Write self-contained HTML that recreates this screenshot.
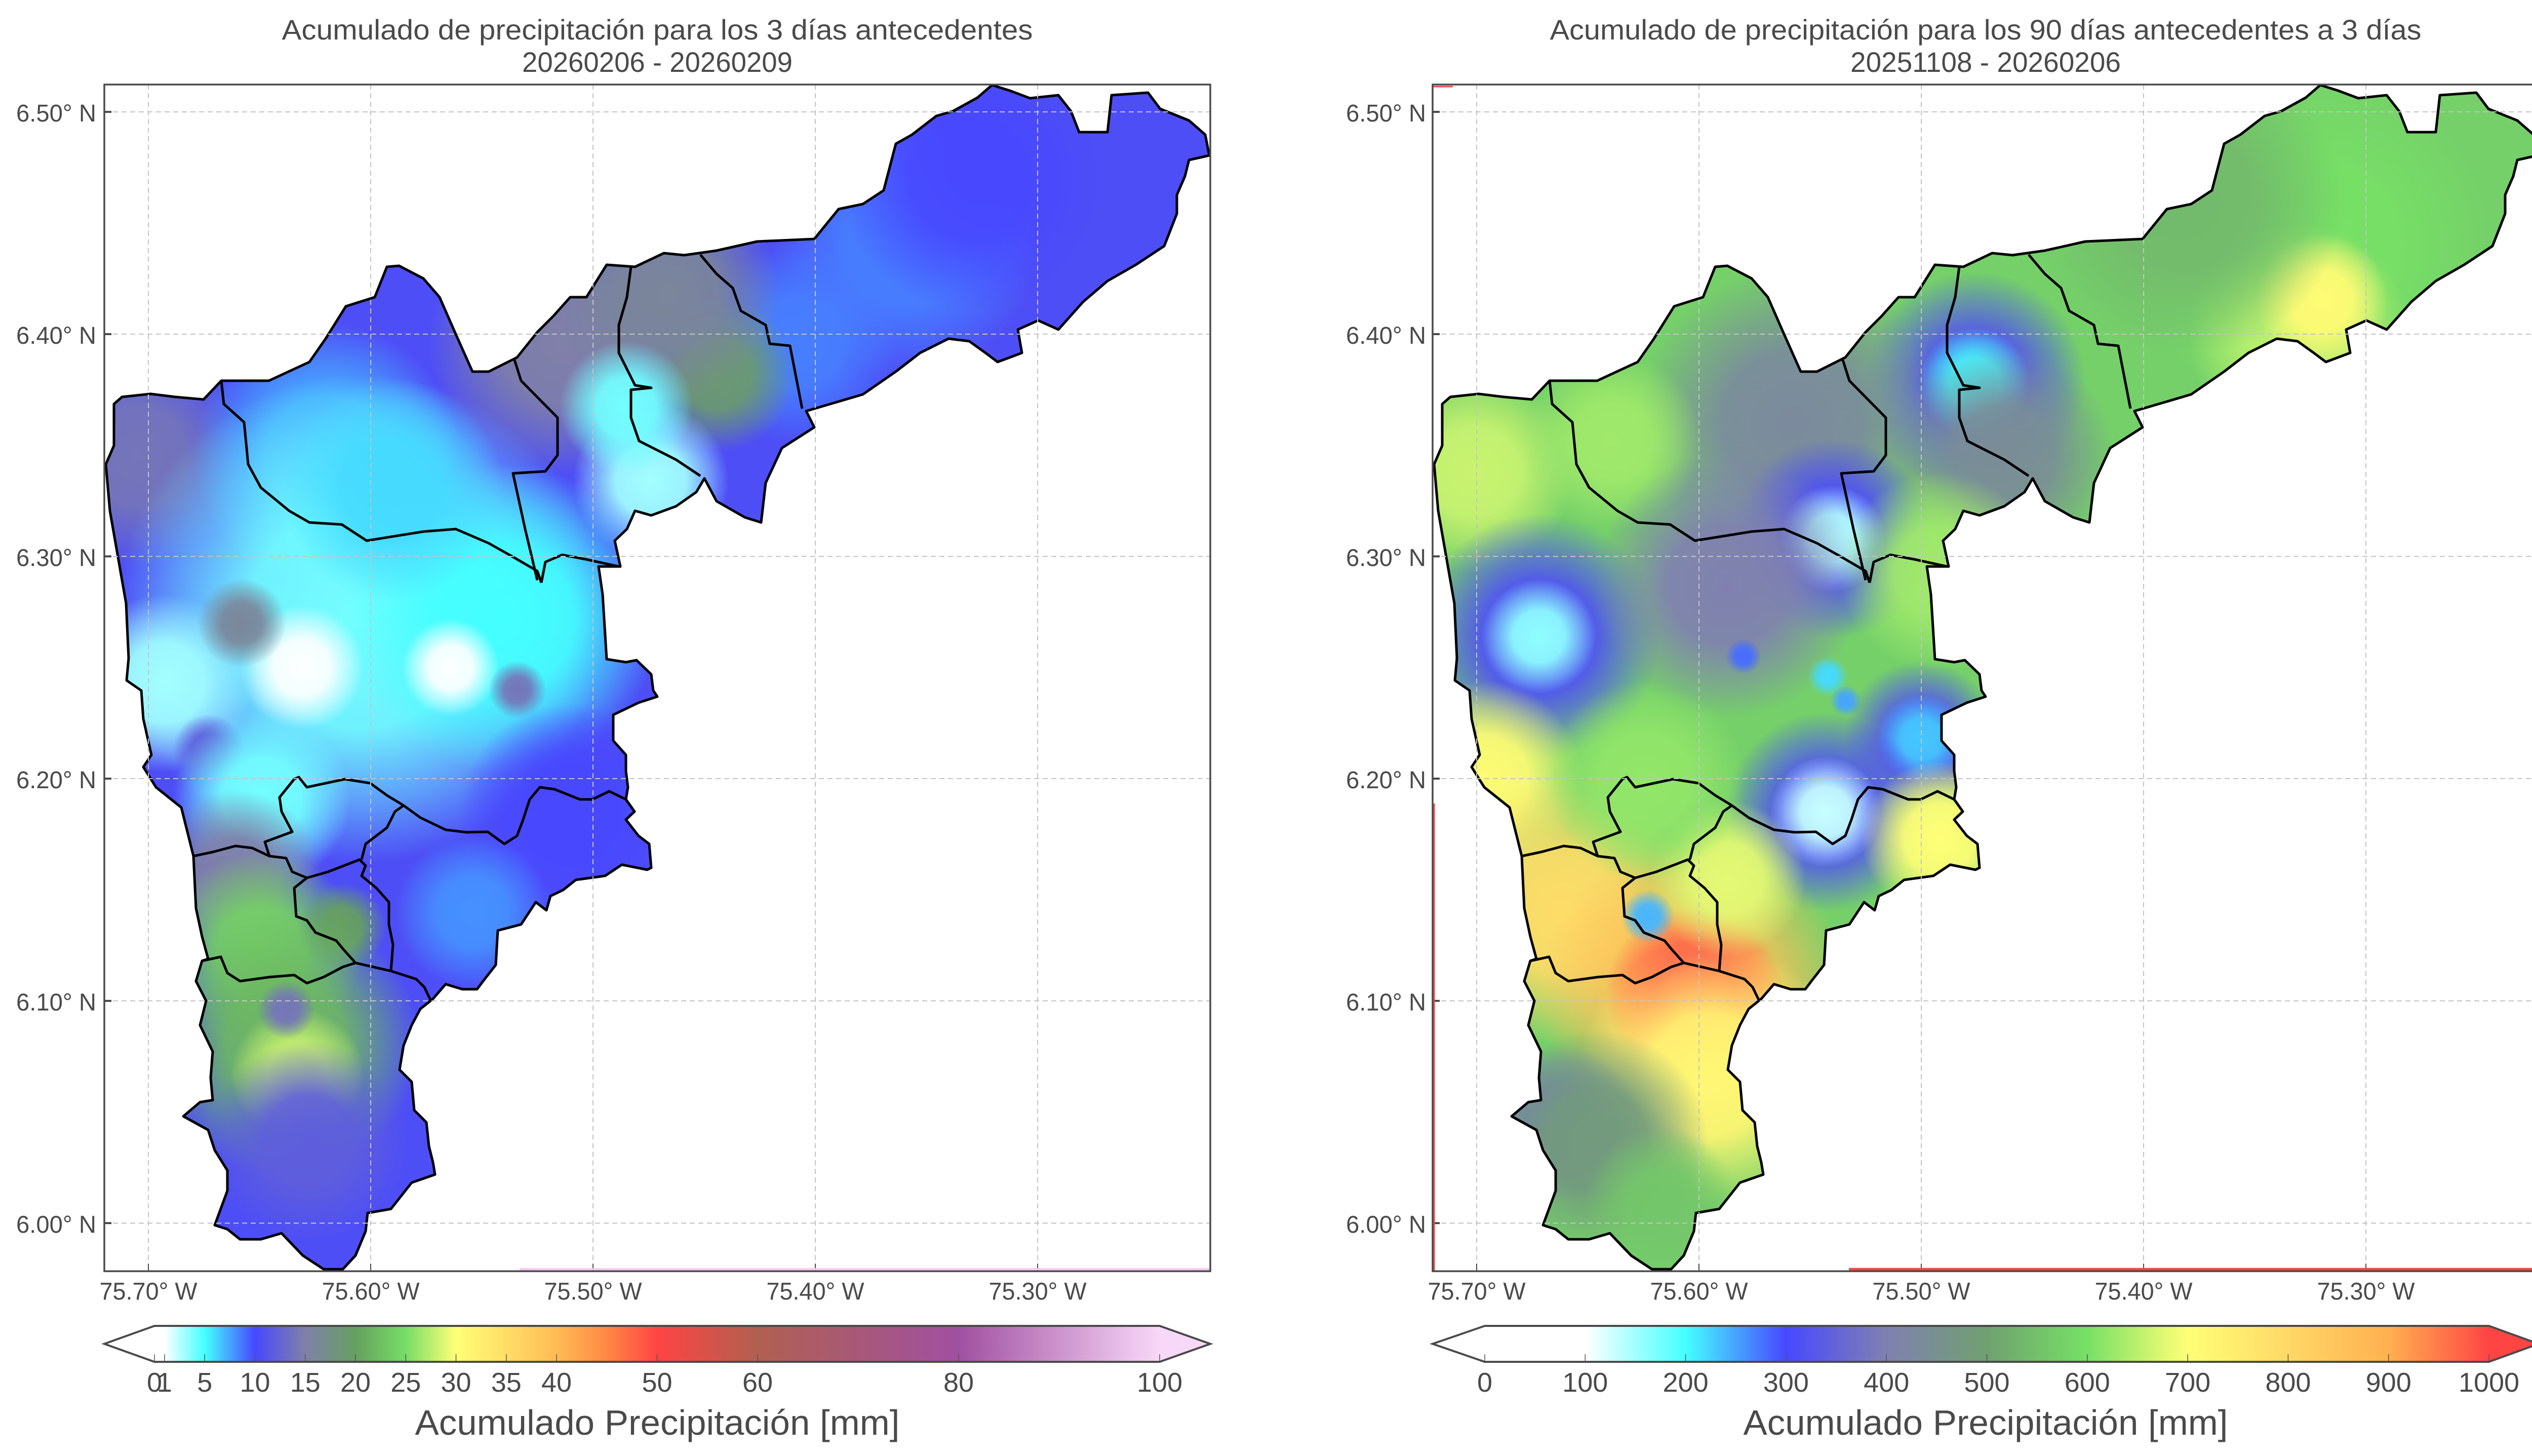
<!DOCTYPE html>
<html><head><meta charset="utf-8">
<style>
html,body{margin:0;padding:0;background:#fff;}
svg{display:block;}
text{font-family:"Liberation Sans",sans-serif;fill:#4a4a4a;}
</style></head>
<body>
<svg id="fig" xmlns="http://www.w3.org/2000/svg" width="5044" height="2876" viewBox="0 0 5044 2876"></svg>
<script>
// ---------- data ----------
const latTicks = [6.50, 6.40, 6.30, 6.20, 6.10, 6.00];
const latTickLabels = ["6.50° N","6.40° N","6.30° N","6.20° N","6.10° N","6.00° N"];
const lonTicks = [-75.70, -75.60, -75.50, -75.40, -75.30];
const lonTickLabels = ["75.70° W","75.60° W","75.50° W","75.40° W","75.30° W"];

const cb1Ticks = [0,1,5,10,15,20,25,30,35,40,50,60,80,100];
const cb1Labels = ["0","1","5","10","15","20","25","30","35","40","50","60","80","100"];
const cb1StopVals = [0,1,5,10,15,20,25,30,40,45,50,60,80,100];
const cb1StopCols = ["#ffffff","#ffffff","#44ffff","#4848ff","#8080a8","#66a060","#77dd66","#ffff77","#ffbb55","#ff8844","#ff4444","#b06050","#a050a0","#f8d8f8"];

const cb2Ticks = [0,100,200,300,400,500,600,700,800,900,1000];
const cb2Labels = ["0","100","200","300","400","500","600","700","800","900","1000"];
const cb2StopVals = [0,100,200,300,400,500,600,700,800,900,1000];
const cb2StopCols = ["#ffffff","#ffffff","#44ffff","#4848ff","#8080b0","#70a070","#77e066","#ffff77","#ffd866","#ffb050","#ff4444"];

// field 1 (3-day accumulation)
const f1Base = 10.5;
const f1Lon = [-75.360,-75.408,-75.514,-75.444,-75.466,-75.474,-75.485,-75.705,-75.620,-75.605,-75.540,-75.631,-75.564,-75.693,-75.658,-75.673,-75.534,-75.510,-75.649,-75.661,-75.649,-75.613,-75.638,-75.633,-75.638,-75.628,-75.554,-75.330,-75.590];
const f1Lat = [6.440,6.396,6.396,6.382,6.418,6.334,6.367,6.345,6.345,6.272,6.272,6.250,6.250,6.243,6.270,6.213,6.240,6.184,6.191,6.155,6.122,6.133,6.081,6.067,6.096,6.037,6.140,6.470,6.330];
const f1Val = [8.5,8.5,15,19,16,3,4,14,7,4,5,0.5,0.5,3,16,12,14,10,4,15,24,20,22,28,14,12,8,10,6];
const f1Rad = [0.06,0.045,0.06,0.035,0.05,0.035,0.03,0.05,0.06,0.11,0.07,0.028,0.022,0.04,0.02,0.016,0.013,0.05,0.04,0.04,0.045,0.02,0.06,0.03,0.013,0.045,0.035,0.06,0.05];

// field 2 (90-day accumulation)
const f2Base = 575;
const f2Lon = [-75.324,-75.330,-75.320,-75.476,-75.476,-75.558,-75.463,-75.540,-75.540,-75.701,-75.639,-75.672,-75.672,-75.587,-75.580,-75.542,-75.534,-75.500,-75.500,-75.543,-75.543,-75.492,-75.697,-75.661,-75.602,-75.602,-75.595,-75.492,-75.587,-75.623,-75.662,-75.646,-75.617,-75.624,-75.380];
const f2Lat = [6.440,6.400,6.415,6.378,6.378,6.360,6.345,6.308,6.308,6.338,6.352,6.264,6.264,6.287,6.255,6.246,6.235,6.218,6.218,6.185,6.185,6.293,6.199,6.140,6.103,6.103,6.067,6.173,6.155,6.138,6.045,6.037,6.008,6.199,6.460];
const f2Val = [600,650,710,320,200,430,440,300,140,660,630,310,160,400,280,220,250,320,230,310,130,630,710,790,860,990,720,700,680,240,380,480,560,620,540];
const f2Rad = [0.08,0.05,0.03,0.05,0.025,0.07,0.05,0.045,0.024,0.045,0.04,0.055,0.026,0.06,0.008,0.009,0.007,0.035,0.02,0.045,0.025,0.045,0.045,0.06,0.07,0.04,0.06,0.035,0.035,0.012,0.035,0.05,0.035,0.045,0.07];

// ---------- geometry ----------
const NS = "http://www.w3.org/2000/svg";
const svg = document.getElementById('fig');
const OFF = 2623;
const AX = {l:206, r:2390, t:167, b:2511};
function X(lon){ return 293 + (lon + 75.70) * 4390; }
function Y(lat){ return 221 + (6.50 - lat) * 4390; }
function mk(tag, attrs, parent){ const e=document.createElementNS(NS,tag); for(const k in attrs) e.setAttribute(k,attrs[k]); (parent||svg).appendChild(e); return e; }

function hex2rgb(h){ return [parseInt(h.substr(1,2),16),parseInt(h.substr(3,2),16),parseInt(h.substr(5,2),16)]; }
function cmap(v, vals, cols){
  if(v<=vals[0]) return cols[0];
  for(let i=1;i<vals.length;i++){
    if(v<=vals[i]){
      const t=(v-vals[i-1])/(vals[i]-vals[i-1]);
      const a=hex2rgb(cols[i-1]), b=hex2rgb(cols[i]);
      return 'rgb('+a.map((c,j)=>Math.round(c+(b[j]-c)*t)).join(',')+')';
    }
  }
  return cols[cols.length-1];
}

const outline = "M1959,168 L1994,179 2034,194 2090,188 2115,220 2131,261 2187,261 2195,188 2267,183 2291,215 2348,238 2380,266 2388,307 2348,316 2340,348 2324,385 2324,422 2299,486 2243,523 2187,555 2139,596 2090,651 2050,633 2010,651 2018,697 1970,715 1946,697 1914,674 1873,669 1817,697 1769,734 1704,779 1592,812 1608,844 1544,885 1512,954 1503,1032 1471,1022 1415,990 1391,945 1375,972 1335,1000 1286,1018 1254,1009 1238,1045 1214,1068 1225,1119 1182,1119 1190,1174 1198,1302 1236,1308 1257,1304 1286,1332 1290,1364 1298,1376 1261,1388 1211,1412 1211,1463 1236,1491 1236,1523 1240,1555 1236,1579 1253,1603 1236,1619 1261,1651 1282,1667 1286,1714 1278,1718 1228,1708 1195,1730 1137,1738 1112,1758 1087,1770 1079,1798 1058,1782 1029,1826 983,1838 979,1906 954,1938 942,1954 913,1954 880,1944 855,1973 830,1993 813,2025 797,2065 789,2113 813,2137 818,2193 842,2217 847,2264 855,2296 859,2320 813,2336 772,2388 726,2396 722,2432 702,2480 677,2507 639,2507 598,2480 556,2436 515,2448 474,2448 449,2428 424,2420 449,2352 449,2312 424,2272 411,2232 362,2205 395,2177 420,2173 416,2129 420,2077 395,2025 407,1977 387,1938 399,1898 411,1894 399,1850 387,1794 382,1691 374,1659 358,1595 308,1555 283,1515 299,1491 283,1420 279,1364 250,1344 254,1300 249,1192 217,1009 209,917 225,880 225,798 241,784 297,778 346,784 402,789 437,752 531,752 611,715 643,669 683,605 740,587 764,527 788,525 836,550 868,587 900,660 933,734 965,734 1021,706 1061,656 1093,624 1126,587 1158,587 1198,523 1254,527 1311,500 1351,504 1415,495 1495,477 1608,472 1656,413 1704,403 1745,376 1769,284 1801,266 1849,229 1881,220 1930,193 Z";
const inner = [
 "M437,752 L442,798 482,834 490,917 515,963 571,1009 611,1032 675,1036 724,1068 836,1050 900,1045 965,1073 1013,1100 1061,1128 1069,1151",
 "M1069,1151 L1077,1110 1110,1096 1158,1105 1222,1119",
 "M1016,711 L1029,752 1101,825 1101,899 1077,931 1013,935 1037,1045 1061,1146",
 "M1246,527 L1238,587 1222,642 1222,697 1254,761 1286,766 1246,770 1246,825 1262,871 1335,908 1383,940",
 "M1383,503 L1415,541 1447,569 1463,614 1512,642 1520,679 1560,683 1584,807",
 "M382,1691 L420,1683 465,1671 498,1675 532,1691 565,1695 577,1722 606,1734 648,1722 710,1698 722,1710 714,1730 743,1754 768,1782 768,1826 776,1866 772,1918",
 "M532,1691 L523,1663 577,1643 556,1603 552,1575 581,1539 590,1535 606,1555 681,1539 731,1547 764,1571 797,1591",
 "M797,1591 L780,1603 764,1635 722,1667 714,1698",
 "M797,1591 L830,1615 880,1639 921,1644 963,1643 996,1667 1021,1651 1033,1619 1046,1579 1066,1555 1095,1559 1145,1579 1170,1579 1203,1563 1236,1579",
 "M606,1734 L581,1754 585,1810 606,1818 623,1842 664,1858 677,1874 702,1902",
 "M702,1902 L677,1910 639,1930 606,1942 581,1926 532,1930 474,1938 449,1922 436,1890 399,1898",
 "M702,1902 L772,1918 822,1934 838,1950 851,1977"
];

const defs = mk('defs',{});

function panel(idx, off, title1, title2, base, lons, lats, vals, rads, sv, sc, ticks, labels, rightTip){
  const g = mk('g',{transform:'translate('+off+',0)'});
  
  
  const t1 = mk('text',{x:(AX.l+AX.r)/2,y:78,'text-anchor':'middle','font-size':56,textLength:idx==1?1483:1721,lengthAdjust:'spacingAndGlyphs'},g);
  t1.textContent = title1;
  
  
  const t2 = mk('text',{x:(AX.l+AX.r)/2,y:142,'text-anchor':'middle','font-size':56,textLength:534,lengthAdjust:'spacingAndGlyphs'},g);
  t2.textContent = title2;
  
  

  const cp = mk('clipPath',{id:'clip'+idx},defs);
  mk('path',{d:outline},cp);
  const fg = mk('g',{'clip-path':'url(#clip'+idx+')'},g);
  
  
  mk('rect',{x:AX.l,y:AX.t,width:AX.r-AX.l,height:AX.b-AX.t,fill:cmap(base,sv,sc)},fg);
  for(let i=0;i<lons.length;i++){
    const col = cmap(vals[i],sv,sc);
    const gid='g'+idx+'_'+i;
    const rg = mk('radialGradient',{id:gid},defs);
    mk('stop',{offset:'0','stop-color':col,'stop-opacity':1},rg);
    mk('stop',{offset:'0.45','stop-color':col,'stop-opacity':0.92},rg);
    mk('stop',{offset:'0.75','stop-color':col,'stop-opacity':0.45},rg);
    mk('stop',{offset:'1','stop-color':col,'stop-opacity':0},rg);
    const c = mk('circle',{cx:X(lons[i]),cy:Y(lats[i]),r:rads[i]*4390,fill:'url(#'+gid+')'},fg);
    
    
  }
  const ob = mk('path',{d:outline,fill:'none',stroke:'#000','stroke-width':5,'stroke-linejoin':'round'},g);
  
  
  inner.forEach(d=>{
    const p = mk('path',{d:d,fill:'none',stroke:'#000','stroke-width':5,'stroke-linejoin':'round'},g);
    
    
  });
  latTicks.forEach((lat,i)=>{
    const y=Y(lat);
    const gl = mk('line',{x1:AX.l,x2:AX.r,y1:y,y2:y,stroke:'#c4c4c4','stroke-width':2,'stroke-dasharray':'10,7'},g);
    
    
    mk('line',{x1:AX.l,x2:AX.l+14,y1:y,y2:y,stroke:'#4a4a4a','stroke-width':4},g);
    const tl = mk('text',{x:idx==1?190:193,y:y+19,'text-anchor':'end','font-size':48,textLength:158,lengthAdjust:'spacingAndGlyphs'},g);
    tl.textContent = latTickLabels[i];
    
    
  });
  lonTicks.forEach((lon,i)=>{
    const x=X(lon);
    const gl = mk('line',{x1:x,x2:x,y1:AX.t,y2:AX.b,stroke:'#c4c4c4','stroke-width':2,'stroke-dasharray':'10,7'},g);
    
    
    mk('line',{x1:x,x2:x,y1:AX.b-15,y2:AX.b,stroke:'#4a4a4a','stroke-width':2},g);
    const tl = mk('text',{x:x,y:2567,'text-anchor':'middle','font-size':48,textLength:193,lengthAdjust:'spacingAndGlyphs'},g);
    tl.textContent = lonTickLabels[i];
    
    
  });
  if(idx==1){
    mk('line',{x1:1026,x2:AX.r,y1:2507,y2:2507,stroke:'#f2c8f2','stroke-width':4},g);
  } else {
    mk('line',{x1:3651-OFF,x2:AX.r,y1:2507,y2:2507,stroke:'#ff4444','stroke-width':5},g);
    mk('line',{x1:AX.l+3,x2:AX.l+3,y1:1587,y2:AX.b,stroke:'#ff4444','stroke-width':3},g);
    mk('line',{x1:AX.l,x2:AX.l+40,y1:171,y2:171,stroke:'#ff4444','stroke-width':3},g);
  }
  const fr = mk('rect',{x:AX.l,y:AX.t,width:AX.r-AX.l,height:AX.b-AX.t,fill:'none',stroke:'#4a4a4a','stroke-width':3.5},g);
  
  

  const cb = mk('g',{},g);
  
  
  const bx0 = idx==1?305:2932-OFF, bx1 = idx==1?2290:4915-OFF;
  const ty=2619, by=2690, my=(ty+by)/2;
  const vmax = sv[sv.length-1];
  const lg = mk('linearGradient',{id:'cbg'+idx,x1:0,x2:1,y1:0,y2:0},defs);
  sv.forEach((v,i)=>mk('stop',{offset:v/vmax,'stop-color':sc[i]},lg));
  mk('rect',{x:bx0,y:ty,width:bx1-bx0,height:by-ty,fill:'url(#cbg'+idx+')'},cb);
  mk('polygon',{points:bx0+','+ty+' '+AX.l+','+my+' '+bx0+','+by,fill:sc[0]},cb);
  mk('polygon',{points:bx1+','+ty+' '+AX.r+','+my+' '+bx1+','+by,fill:rightTip},cb);
  ticks.forEach((v,i)=>{
    const x = bx0 + v/vmax*(bx1-bx0);
    mk('line',{x1:x,x2:x,y1:2675,y2:by,stroke:'#555','stroke-width':1.5},cb);
    const tl = mk('text',{x:x,y:2749,'text-anchor':'middle','font-size':54},cb);
    tl.textContent = labels[i];
    
    
  });
  mk('polygon',{points:bx0+','+ty+' '+bx1+','+ty+' '+AX.r+','+my+' '+bx1+','+by+' '+bx0+','+by+' '+AX.l+','+my,fill:'none',stroke:'#4a4a4a','stroke-width':4,'stroke-linejoin':'miter'},cb);
  const cl = mk('text',{x:(AX.l+AX.r)/2,y:2834,'text-anchor':'middle','font-size':70,textLength:957,lengthAdjust:'spacingAndGlyphs'},cb);
  cl.textContent = 'Acumulado Precipitación [mm]';
  
  
}

panel(1, 0, 'Acumulado de precipitación para los 3 días antecedentes', '20260206 - 20260209',
      f1Base, f1Lon, f1Lat, f1Val, f1Rad, cb1StopVals, cb1StopCols, cb1Ticks, cb1Labels, '#f8d8f8');
panel(2, OFF, 'Acumulado de precipitación para los 90 días antecedentes a 3 días', '20251108 - 20260206',
      f2Base, f2Lon, f2Lat, f2Val, f2Rad, cb2StopVals, cb2StopCols, cb2Ticks, cb2Labels, '#ff4444');
</script>
</body></html>
